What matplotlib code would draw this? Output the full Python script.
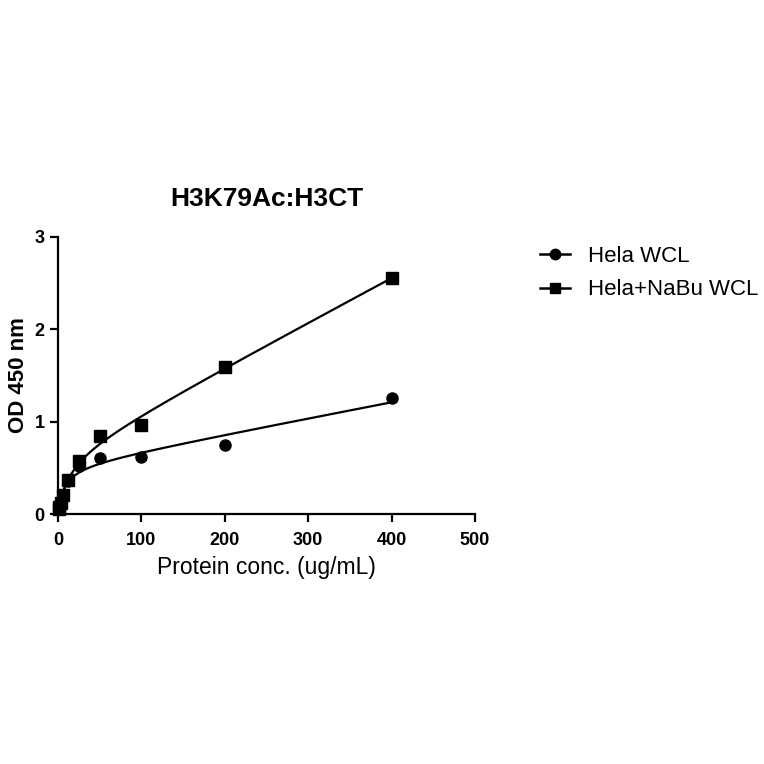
import numpy as np
import matplotlib.pyplot as plt

plt.rcParams['font.family'] = ['Liberation Sans', 'DejaVu Sans']

# 蛋白浓度 (ug/mL)
conc = [400, 200, 100, 50, 25, 12.5, 6.25, 3.125, 1.5625, 0.78]
# OD 450 读数
hela = [1.26, 0.75, 0.62, 0.61, 0.52, 0.36, 0.20, 0.13, 0.09, 0.06]
hela_nabu = [2.56, 1.59, 0.96, 0.84, 0.57, 0.37, 0.21, 0.12, 0.08, 0.05]

title = 'H3K79Ac:H3CT'
xlabel = 'Protein conc. (ug/mL)'
ylabel = 'OD 450 nm'
labels = ['Hela WCL', 'Hela+NaBu WCL']


def fit_total(x, y):
    # one site total binding: y = Bmax*x/(Kd+x) + NS*x
    x = np.asarray(x, float)
    y = np.asarray(y, float)
    best = None
    for kd in np.linspace(0.5, 200, 2000):
        A = np.column_stack([x / (kd + x), x])
        coef, res, _, _ = np.linalg.lstsq(A, y, rcond=None)
        err = np.sum((A @ coef - y) ** 2)
        if best is None or err < best[0]:
            best = (err, kd, coef)
    _, kd, (bmax, ns) = best
    return lambda t: bmax * t / (kd + t) + ns * t


fig = plt.figure(figsize=(7.64, 7.64), dpi=100)
ax = fig.add_axes([0.0759, 0.3272, 0.5458, 0.3626])

xs = np.linspace(min(conc), max(conc), 400)
handles = []
for y, m, lab in zip([hela, hela_nabu], ['o', 's'], labels):
    f = fit_total(conc, y)
    ax.plot(xs, f(xs), color='black', lw=1.6, clip_on=False)
    ax.plot(conc, y, m, color='black', ms=8, clip_on=False)
    h, = ax.plot([], [], marker=m, color='black', lw=1.8, ms=7.5)
    handles.append(h)

ax.set_xlim(0, 500)
ax.set_ylim(0, 3)
ax.set_xticks(range(0, 501, 100))
ax.set_yticks([0, 1, 2, 3])
for s in ['top', 'right']:
    ax.spines[s].set_visible(False)
for s in ['left', 'bottom']:
    ax.spines[s].set_linewidth(1.6)
ax.tick_params(width=1.6, length=6, labelsize=13)
ax.tick_params(axis='x', pad=7)
for t in ax.get_xticklabels() + ax.get_yticklabels():
    t.set_fontweight('bold')

ax.set_title(title, fontsize=19, fontweight='bold', pad=22)
ax.set_xlabel(xlabel, fontsize=16.5, labelpad=5)
ax.set_ylabel(ylabel, fontsize=16, fontweight='bold', labelpad=4)

fig.legend(handles, labels, loc='upper left', bbox_to_anchor=(0.68, 0.704),
           frameon=False, fontsize=16, handlelength=1.35, handletextpad=0.85,
           labelspacing=0.55)

plt.savefig('out.png', dpi=100)
